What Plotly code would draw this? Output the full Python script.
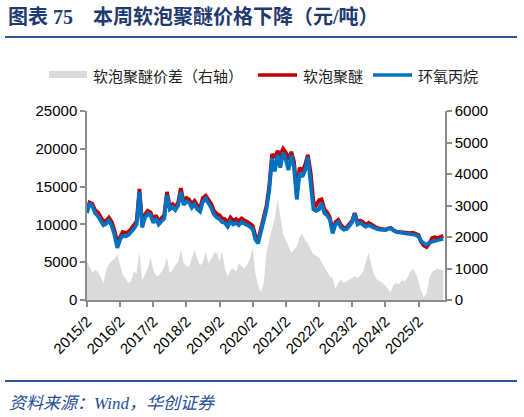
import pandas as pd
import plotly.graph_objects as go

start_month = "2015-02-01"
tick_labels = ["2015/2", "2016/2", "2017/2", "2018/2", "2019/2", "2020/2",
               "2021/2", "2022/2", "2023/2", "2024/2", "2025/2"]
tick_dates = ["2015-02-01", "2016-02-01", "2017-02-01", "2018-02-01", "2019-02-01",
              "2020-02-01", "2021-02-01", "2022-02-01", "2023-02-01", "2024-02-01",
              "2025-02-01"]

# 环氧丙烷 (monthly, 元/吨)
propylene_oxide = [
    11500, 12800, 12400, 11500, 11100, 10500, 9900, 10100, 10500, 9800, 8600, 6900,
    8000, 8500, 8400, 8600, 9000, 9400, 10000, 14300, 9600, 10900, 11400, 11200,
    10200, 10800, 10000, 10400, 10800, 13900, 12000, 12300, 11900, 12500, 14300, 12600,
    13000, 12900, 12200, 12700, 12000, 11700, 13000, 13400, 12800, 12200, 11300, 10900,
    10700, 10300, 10200, 9700, 10400, 10000, 10200, 9900, 10300, 10100, 10000, 9700,
    9400, 8000, 7500, 8900, 10500, 12000, 14500, 18800, 17000, 19200, 17500, 19500,
    18500, 17200, 19200, 17500, 13300, 16800, 16300, 17200, 18900, 15900, 12000, 11800,
    12000, 12800, 11500, 11200, 10600, 8800, 10000, 10300, 9600, 9300, 9400, 9800,
    10300, 11400, 10000, 10200, 10000, 9700, 9900, 9700, 9500, 9400, 9300, 9250,
    9250, 9400, 9500, 9200, 9000, 8950, 8900, 8850, 8800, 8750, 8700, 8600,
    8400, 7800, 7500, 7300, 7600, 7700, 7800, 7900, 8000, 8100,
]

# 软泡聚醚 (monthly, 元/吨)
soft_polyether = [
    11900, 12900, 12700, 11900, 11600, 11000, 10400, 10500, 10900, 10300, 9200, 7600,
    8400, 9000, 8900, 9000, 9400, 9800, 10400, 14700, 10100, 11300, 11800, 11600,
    10600, 11200, 10400, 10800, 11200, 14300, 12400, 12700, 12300, 12900, 14800, 13000,
    13500, 13300, 12700, 13100, 12500, 12200, 13500, 13800, 13300, 12700, 11800, 11400,
    11200, 10800, 10700, 10200, 10900, 10500, 10700, 10400, 10800, 10600, 10400, 10100,
    9800, 8500, 7900, 9300, 10900, 12400, 15000, 19300, 18800, 19700, 19200, 20000,
    19500, 18600, 19600, 18300, 14000, 17500, 17000, 17900, 19200, 16800, 13000, 12500,
    13200, 13300, 12000, 11600, 10900, 9100, 10300, 10600, 9900, 9500, 9600, 10000,
    10500, 11500, 10300, 10500, 10300, 9900, 10200, 10000, 9700, 9550, 9450, 9350,
    9300, 9450, 9550, 9250, 9050, 9000, 8950, 8900, 8850, 8850, 8900, 8800,
    8600, 7700, 7200, 7000, 7500, 8200, 8300, 8200, 8400, 8500,
]

# 软泡聚醚价差（右轴）
polyether_spread = [
    1220, 1060, 870, 950, 900, 740, 540, 950, 1150, 1250, 1300, 1450,
    1100, 800, 680, 540, 600, 900, 850, 1550, 620, 800, 1000, 1350,
    960, 780, 760, 900, 1050, 1330, 850, 950, 1100, 1200, 1600, 1200,
    1080, 1050, 1300, 1600, 1300, 1100, 1200, 1550, 1170, 1300, 1500, 1500,
    1220, 1550, 1000, 750, 950, 1000, 900, 1150, 1080, 1000, 1120, 1300,
    1640, 850, 450, 250, 540, 1500, 1900, 2300, 2600, 3200, 2700, 2100,
    1900, 1700, 1500, 1600, 1700, 2000, 2100, 1900, 1800, 1600, 1450, 1400,
    1350, 1200, 1050, 900, 750, 700, 350, 550, 640, 540, 600, 640,
    700, 750, 700, 780, 900, 1200, 1500, 1100, 800, 650, 600, 550,
    450, 350, 250, 480, 540, 500, 620, 600, 700, 900, 1000, 850,
    600, 300, 80, 200, 700, 900, 950, 1000, 950, 950,
]

dates = pd.date_range(start_month, periods=len(propylene_oxide), freq="MS")

W, H = 524, 417
L, R, T, B = 87, 445, 111, 300


def px(x):
    return (x - L) / (R - L)


def py(y):
    return (B - y) / (B - T)


num_font = "Liberation Sans, Arial, sans-serif"
cjk_font = "Noto Sans CJK SC, sans-serif"

fig = go.Figure()
fig.add_trace(go.Scatter(
    x=dates, y=polyether_spread, mode="lines", fill="tozeroy",
    line=dict(width=0, color="#DADADA"), fillcolor="#DADADA",
    yaxis="y", showlegend=False, name="软泡聚醚价差（右轴）"))
fig.add_trace(go.Scatter(
    x=dates, y=soft_polyether, mode="lines",
    line=dict(width=3.8, color="#C00000"), yaxis="y2",
    showlegend=False, name="软泡聚醚"))
fig.add_trace(go.Scatter(
    x=dates, y=propylene_oxide, mode="lines",
    line=dict(width=3.8, color="#0070C0"), yaxis="y2",
    showlegend=False, name="环氧丙烷"))

axis_col = "#8C8C8C"
fig.update_layout(
    width=W, height=H,
    margin=dict(l=L, r=W - R, t=T, b=H - B, pad=0),
    paper_bgcolor="white", plot_bgcolor="white",
    xaxis=dict(
        type="date", range=["2015-02-01", "2025-11-20"],
        tickvals=tick_dates, ticktext=tick_labels, tickangle=-45,
        tickfont=dict(family=num_font, size=15, color="#000"),
        showline=True, linecolor=axis_col, linewidth=1.5,
        ticks="outside", ticklen=5, tickcolor=axis_col, tickwidth=1.5,
        showgrid=False, zeroline=False),
    yaxis=dict(
        side="right", range=[0, 6000], dtick=1000, tickformat="d",
        tickfont=dict(family=num_font, size=15, color="#000"),
        showline=True, linecolor=axis_col, linewidth=1.5,
        ticks="outside", ticklen=5, tickcolor=axis_col, tickwidth=1.5,
        showgrid=False, zeroline=False),
    yaxis2=dict(
        overlaying="y", side="left", range=[0, 25000], dtick=5000, tickformat="d",
        tickfont=dict(family=num_font, size=15, color="#000"),
        showline=True, linecolor=axis_col, linewidth=1.5,
        ticks="outside", ticklen=5, tickcolor=axis_col, tickwidth=1.5,
        showgrid=False, zeroline=False),
)

shapes = [
    dict(type="line", xref="paper", yref="paper", x0=px(5), x1=px(517),
         y0=py(37), y1=py(37), line=dict(color="#2F5597", width=2)),
    dict(type="line", xref="paper", yref="paper", x0=px(5), x1=px(517),
         y0=py(381), y1=py(381), line=dict(color="#2F5597", width=2)),
    dict(type="rect", xref="paper", yref="paper", x0=px(49), x1=px(87),
         y0=py(78), y1=py(71), fillcolor="#DADADA", line=dict(width=0)),
    dict(type="line", xref="paper", yref="paper", x0=px(258), x1=px(297),
         y0=py(75), y1=py(75), line=dict(color="#C00000", width=3.5)),
    dict(type="line", xref="paper", yref="paper", x0=px(373), x1=px(412),
         y0=py(75), y1=py(75), line=dict(color="#0070C0", width=3.5)),
]
fig.update_layout(shapes=shapes)

annotations = [
    dict(text="<b>图表&nbsp;75&nbsp;&nbsp;&nbsp;&nbsp;本周软泡聚醚价格下降（元/吨）</b>", x=px(6), y=py(17),
         xref="paper", yref="paper", xanchor="left", yanchor="middle",
         showarrow=False,
         font=dict(family="Liberation Serif, Noto Sans CJK SC, serif", size=20, color="#1F3A70")),
    dict(text="软泡聚醚价差（右轴）", x=px(91), y=py(75), xref="paper", yref="paper",
         xanchor="left", yanchor="middle", showarrow=False,
         font=dict(family=cjk_font, size=15, color="#222")),
    dict(text="软泡聚醚", x=px(301), y=py(75), xref="paper", yref="paper",
         xanchor="left", yanchor="middle", showarrow=False,
         font=dict(family=cjk_font, size=15, color="#222")),
    dict(text="环氧丙烷", x=px(416), y=py(75), xref="paper", yref="paper",
         xanchor="left", yanchor="middle", showarrow=False,
         font=dict(family=cjk_font, size=15, color="#222")),
    dict(text="<i>资料来源：Wind，华创证券</i>", x=px(7), y=py(403), xref="paper", yref="paper",
         xanchor="left", yanchor="middle", showarrow=False,
         font=dict(family="Liberation Serif, Noto Sans CJK SC, serif", size=17, color="#1F4E9A")),
]
fig.update_layout(annotations=annotations)

fig.write_html("out.html")
